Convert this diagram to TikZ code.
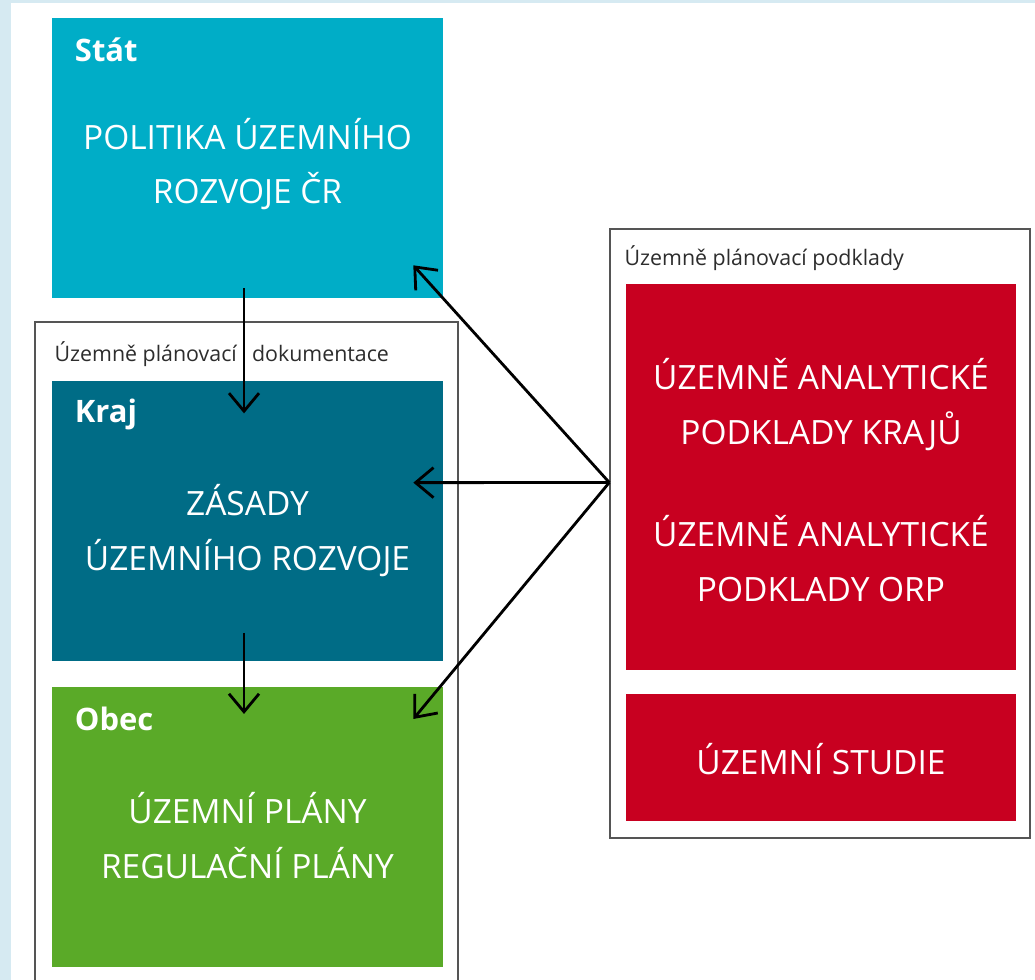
\documentclass[tikz,border=0pt]{standalone}
\usepackage{fontspec}
\setmainfont{Open Sans}
\usetikzlibrary{positioning, arrows.meta}

\definecolor{statblue}{RGB}{0,173,199}
\definecolor{krajblue}{RGB}{0,108,134}
\definecolor{obecgreen}{RGB}{90,170,40}
\definecolor{podred}{RGB}{200,0,32}
\definecolor{framegray}{RGB}{85,85,85}
\definecolor{textgray}{RGB}{45,45,45}
\definecolor{bgblue}{RGB}{214,234,242}

\begin{document}
\begin{tikzpicture}[x=0.025cm, y=-0.025cm,
     node distance = 2.05cm and 3mm,
        box/.style = {rectangle, minimum width=9.775cm, minimum height=7cm, inner sep=0pt},
      frame/.style = {rectangle, draw=framegray, line width=0.9pt, inner sep=0pt},
      title/.style = {anchor=base west, inner sep=0pt, text=white,
                      font=\bfseries\fontsize{22}{26}\selectfont},
       body/.style = {align=center, text=white, font=\fontsize{23.8}{39}\selectfont},
    caption/.style = {anchor=base west, inner sep=0pt, text=textgray,
                      font=\fontsize{15.2}{18}\selectfont},
        arr/.style = {-{Straight Barb[length=4.5mm, width=7.5mm, line width=2pt]}, line width=2pt}
                        ]
\fill[bgblue] (0,0) rectangle (1035,980);
\fill[white] (11,3) rectangle (1035,980);
\useasboundingbox (0,0) rectangle (1035,980);

% frames
\node (doc) [frame, minimum width=10.575cm, minimum height=16.7cm] at (246.5,656) {};
\node (podklady) [frame, minimum width=10.5cm, minimum height=15.225cm] at (820,533.5) {};
\node (docT) [caption] at ([xshift=0.5cm, yshift=-1cm]doc.north west) {Územně plánovací\hspace{0.45em} dokumentace};
\node (podkladyT) [caption] at ([xshift=0.375cm, yshift=-0.925cm]podklady.north west) {Územně plánovací podklady};

% left column
\node (stat) [box, fill=statblue] at (247.5,158) {};
\node (kraj) [box, fill=krajblue, below=of stat] {};
\node (obec) [box, fill=obecgreen, below=0.65cm of kraj] {};
\node (statT) [title] at ([xshift=0.575cm, yshift=-1.1cm]stat.north west) {Stát};
\node (krajT) [title] at ([xshift=0.575cm, yshift=-1.05cm]kraj.north west) {Kraj};
\node (obecT) [title] at ([xshift=0.575cm, yshift=-1.1cm]obec.north west) {Obec};
\node (statX) [body] at ([yshift=-0.15cm]stat.center) {POLITIKA ÚZEMNÍHO\\ROZVOJE ČR};
\node (krajX) [body] at ([yshift=-0.25cm]kraj.center) {ZÁSADY\\ÚZEMNÍHO ROZVOJE};
\node (obecX) [body] at ([yshift=-0.2cm]obec.center) {ÚZEMNÍ PLÁNY\\REGULAČNÍ PLÁNY};

% right column
\node (uap) [box, fill=podred, minimum width=9.75cm, minimum height=9.65cm] at (821,477) {};
\node (studie) [box, fill=podred, minimum width=9.75cm, minimum height=3.175cm, below=0.575cm of uap] {};
\node (uapX) [body] at ([yshift=-0.075cm]uap.center) {ÚZEMNĚ ANALYTICKÉ\\PODKLADY KRAJŮ\\[34pt]ÚZEMNĚ ANALYTICKÉ\\PODKLADY ORP};
\node (studieX) [body] at ([yshift=-0.05cm]studie.center) {ÚZEMNÍ STUDIE};

% arrows
\coordinate (hub) at ([yshift=1.275cm]podklady.west);
\draw[arr] ([xshift=-0.0875cm, yshift=0.25cm]stat.south) -- ([xshift=-0.0875cm, yshift=-0.825cm]kraj.north);
\draw[arr] ([xshift=-0.0875cm, yshift=0.7cm]kraj.south) -- ([xshift=-0.0875cm, yshift=-0.675cm]obec.north);
\draw[arr] (hub) -- ([xshift=-0.75cm, yshift=0.825cm]stat.south east);
\draw[arr] (hub) -- ([xshift=-0.75cm, yshift=0.95cm]kraj.east);
\draw[arr] (hub) -- ([xshift=-0.75cm, yshift=-0.8cm]obec.north east);
\end{tikzpicture}
\end{document}
